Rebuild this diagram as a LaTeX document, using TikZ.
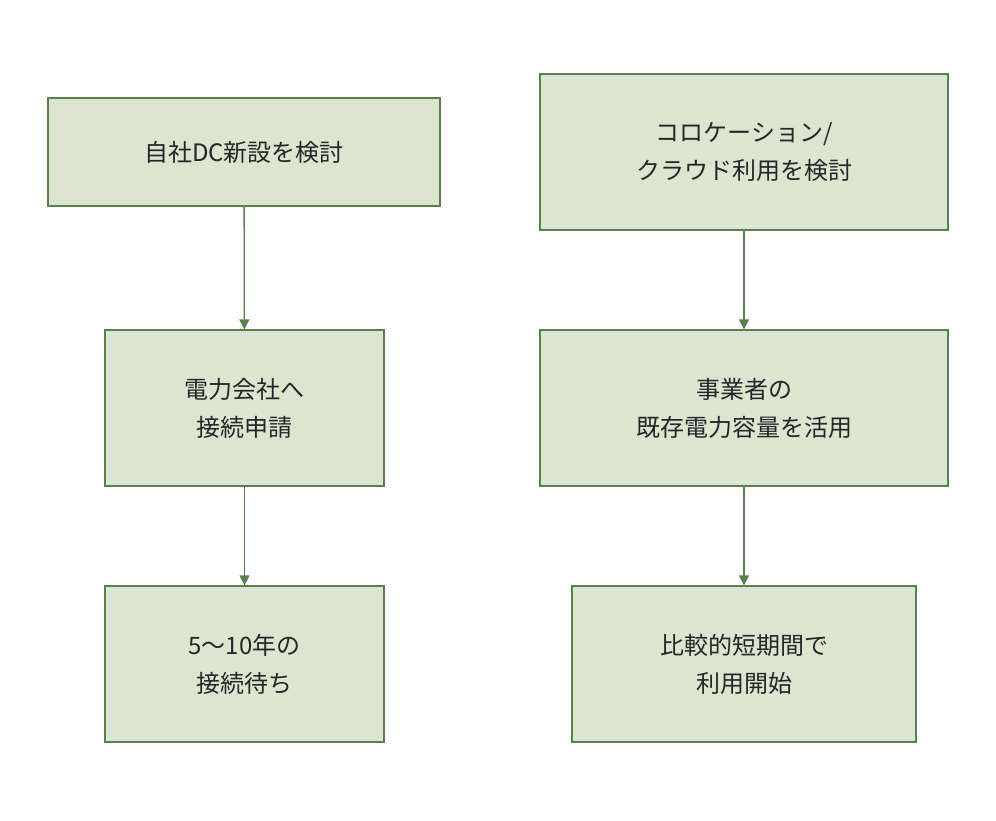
\documentclass[tikz,border=0pt]{standalone}
\usepackage{fontspec}
\setmainfont{Noto Sans CJK JP}
\usetikzlibrary{arrows.meta}
\definecolor{boxfill}{HTML}{DCE5D0}
\definecolor{boxline}{HTML}{5B7F4B}
\begin{document}
\begin{tikzpicture}[x=1pt,y=-1pt,
  box/.style={draw=boxline,fill=boxfill,line width=1.3pt,align=center,font=\fontsize{24}{38}\selectfont,text=black!85,inner sep=0pt},
  arr/.style={draw=boxline,line width=1.3pt,-{Triangle[length=10pt,width=10pt]}}]
\useasboundingbox (0,0) rectangle (996,820);
\node[box,minimum width=392pt,minimum height=108pt] (a) at (244,152) {自社DC新設を検討};
\node[box,minimum width=279pt,minimum height=156pt] (b) at (244.5,408) {電力会社へ\\接続申請};
\node[box,minimum width=279pt,minimum height=156pt] (c) at (244.5,664) {5〜10年の\\接続待ち};
\node[box,minimum width=408pt,minimum height=156pt] (d) at (744,152) {コロケーション/\\クラウド利用を検討};
\node[box,minimum width=408pt,minimum height=156pt] (e) at (744,408) {事業者の\\既存電力容量を活用};
\node[box,minimum width=344pt,minimum height=156pt] (f) at (744,664) {比較的短期間で\\利用開始};
\draw[arr] (a) -- (b);
\draw[arr] (b) -- (c);
\draw[arr] (d) -- (e);
\draw[arr] (e) -- (f);
\end{tikzpicture}
\end{document}
